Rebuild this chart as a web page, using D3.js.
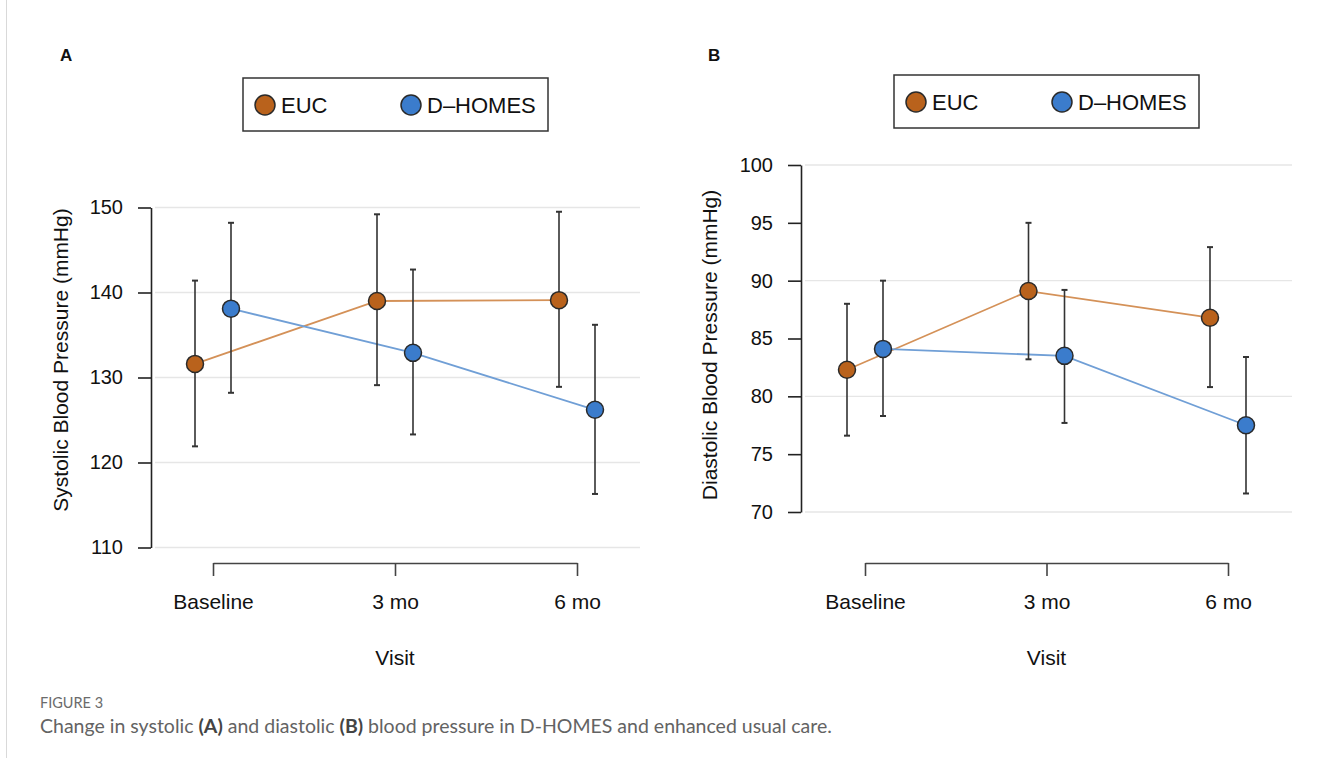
<!DOCTYPE html>
<html>
<head>
<meta charset="utf-8">
<script src="https://cdn.jsdelivr.net/npm/d3@7"></script>
<style>
  body { margin: 0; background: #fff; }
  svg { display: block; }
  .chart text { font-family: "Liberation Sans", Arial, sans-serif; fill: #111; }
  .caption text { font-family: Lato, "Open Sans", sans-serif; }
</style>
</head>
<body>
<div id="chart"></div>
<script>
// visits and groups
var visits = ["Baseline", "3 mo", "6 mo"];
var groups = ["EUC", "D-HOMES"];

// systolic (panel A), mean and error bar ends
var sbpEUC = [131.6, 139.0, 139.1];
var sbpEUCLow = [121.9, 129.1, 128.9];
var sbpEUCHigh = [141.4, 149.2, 149.5];
var sbpDH = [138.1, 132.9, 126.2];
var sbpDHLow = [128.2, 123.3, 116.3];
var sbpDHHigh = [148.2, 142.7, 136.2];

// diastolic (panel B)
var dbpEUC = [82.3, 89.1, 86.8];
var dbpEUCLow = [76.6, 83.2, 80.8];
var dbpEUCHigh = [88.0, 95.0, 92.9];
var dbpDH = [84.1, 83.5, 77.5];
var dbpDHLow = [78.3, 77.7, 71.6];
var dbpDHHigh = [90.0, 89.2, 83.4];

var sbpTicks = [110, 120, 130, 140, 150];
var sbpGrid = [110, 120, 130, 140, 150];
var dbpTicks = [70, 75, 80, 85, 90, 95, 100];
var dbpGrid = [70, 80, 90, 100];

var fillColor = { "EUC": "#b9621c", "D-HOMES": "#3b7ccc" };
var lineColor = { "EUC": "#d49158", "D-HOMES": "#709fd6" };

var svg = d3.select("#chart").append("svg")
  .attr("width", 1320)
  .attr("height", 758);

// page border on the left
svg.append("line")
  .attr("x1", 6.5).attr("x2", 6.5).attr("y1", 0).attr("y2", 758)
  .attr("stroke", "#d9d9d9").attr("stroke-width", 1);

function makeSeries(mean, low, high) {
  return visits.map(function (v, i) { return { visit: v, mean: mean[i], low: low[i], high: high[i] }; });
}

function drawPanel(opt) {
  var g = svg.append("g").attr("class", "chart");
  var x = d3.scalePoint().domain(visits).range([opt.x0, opt.x1]);
  var y = d3.scaleLinear().domain(opt.domain).range([opt.yBottom, opt.yTop]);
  var dodge = { "EUC": -18, "D-HOMES": 18 };

  // panel letter
  g.append("text").attr("x", opt.letterX).attr("y", 61)
    .attr("font-size", 17).attr("font-weight", "bold").text(opt.letter);

  // grid
  g.selectAll(".grid").data(opt.grid).enter().append("line")
    .attr("x1", opt.axisX + 4).attr("x2", opt.gridEnd)
    .attr("y1", function (d) { return y(d); })
    .attr("y2", function (d) { return y(d); })
    .attr("stroke", "#e6e6e6").attr("stroke-width", 1.3);

  // y axis
  var ya = g.append("g").attr("transform", "translate(" + opt.axisX + ",0)")
    .call(d3.axisLeft(y).tickValues(opt.ticks).tickSize(13).tickSizeOuter(0).tickPadding(15));
  ya.selectAll("path, line").attr("stroke", "#222").attr("stroke-width", 1.6);
  ya.selectAll("text").attr("font-size", 20).attr("fill", "#111")
    .style("font-family", "'Liberation Sans', Arial, sans-serif");

  // x axis bracket
  var xa = g.append("g").attr("transform", "translate(0," + opt.xAxisY + ")")
    .call(d3.axisBottom(x).tickSize(13).tickSizeOuter(0).tickPadding(18));
  xa.selectAll("path, line").attr("stroke", "#444").attr("stroke-width", 1.6);
  xa.selectAll("text").attr("font-size", 21).attr("fill", "#111")
    .style("font-family", "'Liberation Sans', Arial, sans-serif");

  // axis titles
  g.append("text").attr("x", (opt.x0 + opt.x1) / 2).attr("y", 665)
    .attr("text-anchor", "middle").attr("font-size", 21).text("Visit");
  g.append("text")
    .attr("transform", "translate(" + opt.titleX + "," + opt.titleY + ") rotate(-90)")
    .attr("text-anchor", "middle").attr("font-size", 21).text(opt.title);

  var series = [
    { name: "EUC", data: makeSeries(opt.euc[0], opt.euc[1], opt.euc[2]) },
    { name: "D-HOMES", data: makeSeries(opt.dh[0], opt.dh[1], opt.dh[2]) }
  ];

  var line = d3.line()
    .x(function (d) { return x(d.visit) + d.off; })
    .y(function (d) { return y(d.mean); });

  series.forEach(function (s) {
    var pts = s.data.map(function (d) { return Object.assign({ off: dodge[s.name] }, d); });
    g.append("path").datum(pts).attr("d", line)
      .attr("fill", "none").attr("stroke", lineColor[s.name]).attr("stroke-width", 1.8);
  });

  series.forEach(function (s) {
    var sg = g.append("g");
    var bars = sg.selectAll(".err").data(s.data).enter().append("g");
    bars.append("line")
      .attr("x1", function (d) { return x(d.visit) + dodge[s.name]; })
      .attr("x2", function (d) { return x(d.visit) + dodge[s.name]; })
      .attr("y1", function (d) { return y(d.low); })
      .attr("y2", function (d) { return y(d.high); })
      .attr("stroke", "#333").attr("stroke-width", 1.6);
    ["low", "high"].forEach(function (k) {
      bars.append("line")
        .attr("x1", function (d) { return x(d.visit) + dodge[s.name] - 3; })
        .attr("x2", function (d) { return x(d.visit) + dodge[s.name] + 3; })
        .attr("y1", function (d) { return y(d[k]); })
        .attr("y2", function (d) { return y(d[k]); })
        .attr("stroke", "#333").attr("stroke-width", 2);
    });
  });

  series.forEach(function (s) {
    g.selectAll(".pt-" + s.name).data(s.data).enter().append("circle")
      .attr("cx", function (d) { return x(d.visit) + dodge[s.name]; })
      .attr("cy", function (d) { return y(d.mean); })
      .attr("r", 8.5)
      .attr("fill", fillColor[s.name])
      .attr("stroke", "#2a2a2a").attr("stroke-width", 1.5);
  });

  // legend
  var lg = g.append("g").attr("transform", "translate(" + opt.legendX + "," + opt.legendY + ")");
  lg.append("rect").attr("width", 305).attr("height", 53)
    .attr("fill", "#fff").attr("stroke", "#333").attr("stroke-width", 1.5);
  var items = lg.selectAll(".item").data(groups).enter().append("g")
    .attr("transform", function (d, i) { return "translate(" + (22 + i * 146) + ",27)"; });
  items.append("circle").attr("r", 10)
    .attr("fill", function (d) { return fillColor[d]; })
    .attr("stroke", "#2a2a2a").attr("stroke-width", 1.5);
  items.append("text").attr("x", 16).attr("y", 8).attr("font-size", 22)
    .text(function (d) { return d.replace("-", "\u2013"); });
}

drawPanel({
  letter: "A", letterX: 60,
  x0: 213, x1: 577, axisX: 151, gridEnd: 640,
  domain: [110, 150], yBottom: 547.5, yTop: 207.5,
  ticks: sbpTicks, grid: sbpGrid, xAxisY: 563,
  title: "Systolic Blood Pressure (mmHg)", titleX: 68, titleY: 360,
  euc: [sbpEUC, sbpEUCLow, sbpEUCHigh], dh: [sbpDH, sbpDHLow, sbpDHHigh],
  legendX: 243, legendY: 78
});

drawPanel({
  letter: "B", letterX: 708,
  x0: 865, x1: 1228, axisX: 801, gridEnd: 1292,
  domain: [70, 100], yBottom: 512, yTop: 165,
  ticks: dbpTicks, grid: dbpGrid, xAxisY: 563,
  title: "Diastolic Blood Pressure (mmHg)", titleX: 717, titleY: 345,
  euc: [dbpEUC, dbpEUCLow, dbpEUCHigh], dh: [dbpDH, dbpDHLow, dbpDHHigh],
  legendX: 894, legendY: 75
});

// caption
var cap = svg.append("g").attr("class", "caption");
cap.append("text").attr("x", 40).attr("y", 708)
  .attr("font-size", 14.5).attr("fill", "#6b6b6b").text("FIGURE 3");
var ct = cap.append("text").attr("x", 40).attr("y", 733)
  .attr("font-size", 19.5).attr("fill", "#636363");
ct.append("tspan").text("Change in systolic ");
ct.append("tspan").attr("font-weight", "bold").attr("fill", "#444").text("(A)");
ct.append("tspan").text(" and diastolic ");
ct.append("tspan").attr("font-weight", "bold").attr("fill", "#444").text("(B)");
ct.append("tspan").text(" blood pressure in D-HOMES and enhanced usual care.");
</script>
</body>
</html>
